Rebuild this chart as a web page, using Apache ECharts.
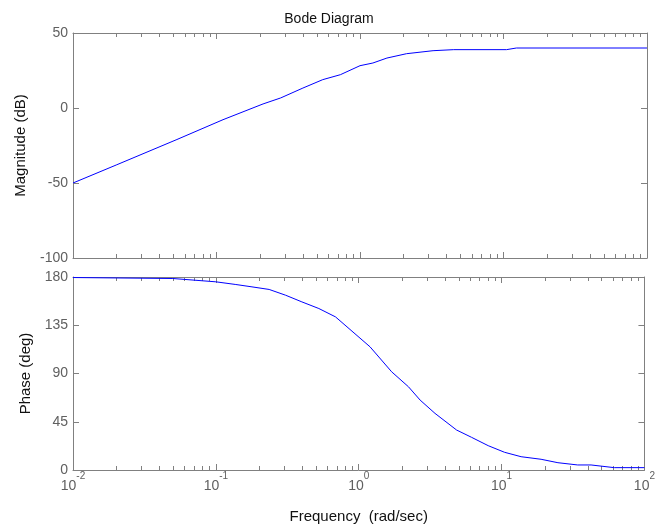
<!DOCTYPE html>
<html><head><meta charset="utf-8">
<script src="https://cdn.jsdelivr.net/npm/echarts@6/dist/echarts.min.js"></script>
<style>html,body{margin:0;padding:0;background:#fff}#c{width:658px;height:531px}</style>
</head><body><div id="c"></div>
<script>
// Magnitude curve (rad/sec, dB)
const magFreq = [0.01, 0.02, 0.053, 0.111, 0.211, 0.28, 0.40, 0.55, 0.73, 1.0, 1.23, 1.54, 2.11, 3.23, 4.5, 10.5, 12.3, 100];
const magDb   = [-50, -38, -21, -7.8, 2.7, 6.7, 13.3, 18.9, 22.2, 28.2, 30, 33.3, 36.2, 38.2, 38.9, 38.9, 40, 40];
// Phase curve (rad/sec, deg)
const phaseFreq = [0.01, 0.05, 0.1, 0.138, 0.179, 0.236, 0.308, 0.40, 0.526, 0.688, 1.2, 1.7, 2.23, 2.69, 3.42, 4.84, 6.16, 8.06, 10.5, 13.7, 18.9, 24.8, 34.1, 42.3, 61.5, 100];
const phaseDeg  = [179.5, 178.6, 175.5, 173, 170.8, 168.4, 163, 156.8, 150.6, 142.8, 114.9, 91.6, 77.6, 65.2, 52.8, 37.3, 30.5, 22.7, 16.5, 12.4, 10, 6.8, 4.7, 4.7, 2.2, 2.2];
// Minor tick positions of the log frequency axis
const minorTickFreq = [0.02,0.03,0.04,0.05,0.06,0.07,0.08,0.09, 0.2,0.3,0.4,0.5,0.6,0.7,0.8,0.9, 2,3,4,5,6,7,8,9, 20,30,40,50,60,70,80,90];

const FONT = '"Liberation Sans", Arial, sans-serif';
const axisColor = '#808080';
const labelColor = '#606060';

function pairs(xs, ys) { return xs.map((x, i) => [x, ys[i]]); }

function xAxisDef(gridIndex, position, showLabels) {
  return {
    type: 'log', logBase: 10, min: 0.01, max: 100, gridIndex, position,
    axisLine: {show: true, onZero: false, lineStyle: {color: axisColor, width: 1}},
    axisTick: {show: true, inside: true, length: 6, lineStyle: {color: axisColor}},
    minorTick: {show: false},
    splitLine: {show: false},
    axisLabel: showLabels ? {
      show: true, margin: 1, showMinLabel: true, showMaxLabel: true,
      formatter: v => '{b|10}{s|' + Math.round(Math.log10(v)) + '}',
      rich: {
        b: {fontSize: 14, fontFamily: FONT, color: labelColor, verticalAlign: 'bottom', lineHeight: 22},
        s: {fontSize: 10, fontFamily: FONT, color: labelColor, verticalAlign: 'top'}
      }
    } : {show: false}
  };
}

function yAxisDef(gridIndex, position, min, max, interval, showLabels, name, nameGap) {
  return {
    type: 'value', gridIndex, position, min, max, interval,
    name: name || '', nameLocation: 'middle', nameGap: nameGap || 0, nameRotate: 90,
    nameTextStyle: {fontSize: 15, fontFamily: FONT, color: '#111'},
    axisLine: {show: true, onZero: false, lineStyle: {color: axisColor, width: 1}},
    axisTick: {show: true, inside: true, length: 6, lineStyle: {color: axisColor}},
    splitLine: {show: false},
    axisLabel: showLabels ? {show: true, margin: 5, fontSize: 14, fontFamily: FONT, color: labelColor} : {show: false}
  };
}

function minorTickRender(params, api) {
  const x = Math.round(api.coord([api.value(0), api.value(1)])[0]) + 0.5;
  const cs = params.coordSys;
  const st = {stroke: axisColor, lineWidth: 1};
  return {type: 'group', children: [
    {type: 'line', shape: {x1: x, y1: cs.y, x2: x, y2: cs.y + 4}, style: st},
    {type: 'line', shape: {x1: x, y1: cs.y + cs.height, x2: x, y2: cs.y + cs.height - 4}, style: st}
  ]};
}

const chart = echarts.init(document.getElementById('c'), null, {renderer: 'canvas'});
chart.setOption({
  animation: false,
  backgroundColor: '#fff',
  title: {text: 'Bode Diagram', left: 'center', top: 7,
    textStyle: {fontSize: 14, fontWeight: 'normal', fontFamily: FONT, color: '#111'}},
  grid: [
    {left: 73, top: 33, width: 574, height: 225},
    {left: 73, top: 277, width: 574, height: 193}
  ],
  xAxis: [
    xAxisDef(0, 'bottom', false),
    xAxisDef(0, 'top', false),
    Object.assign(xAxisDef(1, 'bottom', true), {
      name: 'Frequency  (rad/sec)', nameLocation: 'middle', nameGap: 39,
      nameTextStyle: {fontSize: 15, fontFamily: FONT, color: '#111'}
    }),
    xAxisDef(1, 'top', false)
  ],
  yAxis: [
    yAxisDef(0, 'left', -100, 50, 50, true, 'Magnitude (dB)', 45),
    yAxisDef(0, 'right', -100, 50, 50, false),
    yAxisDef(1, 'left', 0, 180, 45, true, 'Phase (deg)', 40),
    yAxisDef(1, 'right', 0, 180, 45, false)
  ],
  series: [
    {type: 'line', xAxisIndex: 0, yAxisIndex: 0, data: pairs(magFreq, magDb), showSymbol: false,
     lineStyle: {color: '#0000ff', width: 1}, itemStyle: {color: '#0000ff'}, silent: true},
    {type: 'line', xAxisIndex: 2, yAxisIndex: 2, data: pairs(phaseFreq, phaseDeg), showSymbol: false,
     lineStyle: {color: '#0000ff', width: 1}, itemStyle: {color: '#0000ff'}, silent: true},
    {type: 'custom', xAxisIndex: 0, yAxisIndex: 0, renderItem: minorTickRender, silent: true,
     data: minorTickFreq.map(f => [f, 0])},
    {type: 'custom', xAxisIndex: 2, yAxisIndex: 2, renderItem: minorTickRender, silent: true,
     data: minorTickFreq.map(f => [f, 90])}
  ]
});
</script>
</body></html>
